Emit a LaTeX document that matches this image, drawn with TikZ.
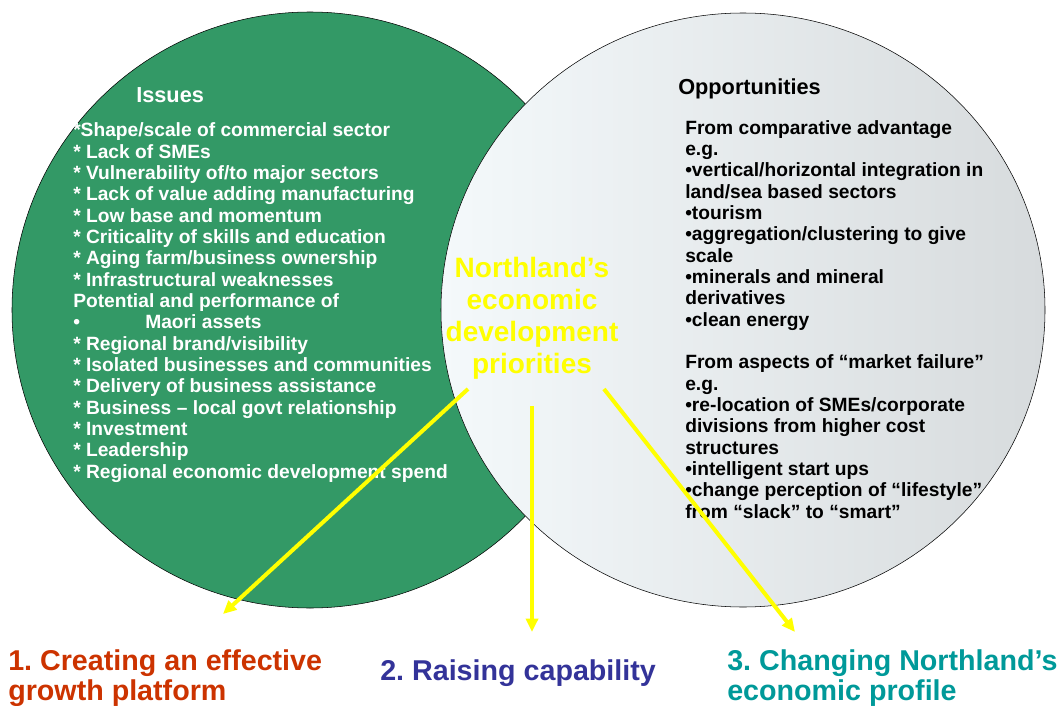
\documentclass[tikz,border=0pt]{standalone}
\usepackage{fontspec}
\setmainfont{Liberation Sans}
\usetikzlibrary{arrows.meta}
\frenchspacing

\begin{document}
\begin{tikzpicture}[x=0.75pt,y=0.75pt,yscale=-1,xscale=1,
  listtxt/.style={anchor=base west,align=left,inner sep=0pt,font=\fontsize{14.4}{16}\selectfont\bfseries},
  headtxt/.style={anchor=base west,inner sep=0pt,font=\fontsize{16.3}{19}\selectfont\bfseries},
  goaltxt/.style={anchor=base west,align=left,inner sep=0pt,font=\fontsize{21.5}{22.5}\selectfont\bfseries},
  prioarrow/.style={draw={rgb, 255:red, 255; green, 255; blue, 0 },line width=3,-{Triangle[length=10pt,width=9pt]}}]
%set diagram to the size of the slide
\useasboundingbox (0,0) rectangle (1063,706);

%Shape: Circle 
\draw  [fill={rgb, 255:red, 51; green, 153; blue, 102 }  ,fill opacity=1 ] (310,310) circle [radius=298] ;
%Shape: Ellipse 
\draw  [left color={rgb, 255:red, 244; green, 249; blue, 251 } ,right color={rgb, 255:red, 215; green, 219; blue, 221 } ] (743,310) ellipse [x radius=302, y radius=297] ;

% Text Node (multi-line nodes sit on the baseline of their last line)
\draw (136,103) node (issuesTitle) [headtxt,text=white] {Issues};
% Text Node
\draw (73,478) node (issueList) [listtxt,text=white] {*Shape/scale of commercial sector\\* Lack of SMEs\\* Vulnerability of/to major sectors\\* Lack of value adding manufacturing\\* Low base and momentum\\* Criticality of skills and education\\* Aging farm/business ownership\\* Infrastructural weaknesses\\Potential and performance of\\•\hspace{49pt}Maori assets\\* Regional brand/visibility\\* Isolated businesses and communities\\* Delivery of business assistance\\* Business – local govt relationship\\* Investment\\* Leadership\\* Regional economic development spend};
% Text Node
\draw (678,95) node (oppTitle) [headtxt,text=black] {Opportunities};
% Text Node
\draw (685,518) node (oppList) [listtxt,text=black] {From comparative advantage\\e.g.\\•vertical/horizontal integration in\\land/sea based sectors\\•tourism\\•aggregation/clustering to give\\scale\\•minerals and mineral\\derivatives\\•clean energy\\~\\From aspects of “market failure”\\e.g.\\•re-location of SMEs/corporate\\divisions from higher cost\\structures\\•intelligent start ups\\•change perception of “lifestyle”\\from “slack” to “smart”};
% Text Node
\draw (532,373) node (prio) [anchor=base,align=center,inner sep=0pt,text={rgb, 255:red, 255; green, 255; blue, 0 },font=\fontsize{21}{24}\selectfont\bfseries] {Northland’s\\economic\\development\\priorities};

% Text Node
\draw (8,700) node (growth) [goaltxt,text={rgb, 255:red, 204; green, 51; blue, 0 }] {1. Creating an effective\\growth platform};
% Text Node
\draw (380,680) node (capability) [goaltxt,text={rgb, 255:red, 51; green, 51; blue, 153 }] {2. Raising capability};
% Text Node
\draw (727,700) node (profile) [goaltxt,text={rgb, 255:red, 0; green, 153; blue, 153 }] {3. Changing Northland’s\\economic profile};

%Straight Lines 
\coordinate (growthFrom) at (468,389);
\coordinate (growthTo) at (223,614);
\draw [prioarrow] (growthFrom) -- (growthTo) ;
%Straight Lines 
\coordinate (capabilityFrom) at (532,406);
\coordinate (capabilityTo) at (532,632);
\draw [prioarrow] (capabilityFrom) -- (capabilityTo) ;
%Straight Lines 
\coordinate (profileFrom) at (604,389);
\coordinate (profileTo) at (795,632);
\draw [prioarrow] (profileFrom) -- (profileTo) ;

\end{tikzpicture}
\end{document}
